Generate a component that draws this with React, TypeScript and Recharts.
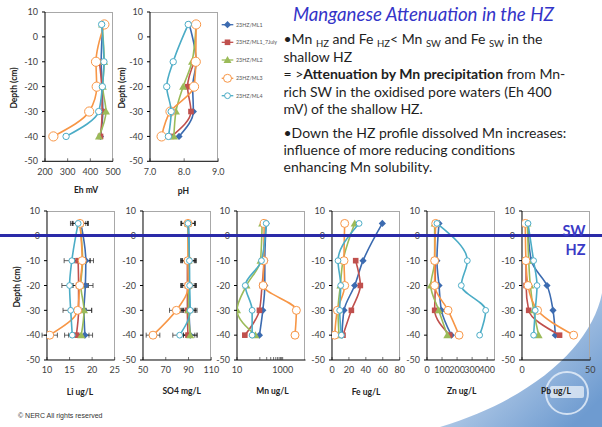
import React from 'react';
import { ScatterChart, Scatter, XAxis, YAxis, ErrorBar } from 'recharts';

const FONT = 'Lato, "Open Sans", sans-serif';

// ---------- data ----------
const SERIES_NAMES = ['23HZ/ML1', '23HZ/ML1_7July', '23HZ/ML2', '23HZ/ML3', '23HZ/ML4'];
const DEPTHS = [5, -10, -20, -30, -40];
const DEPTHS_7JULY = [-10, -20, -30, -40];
const DEPTH_TICKS = [10, 0, -10, -20, -30, -40, -50];

const EH_ML1 = [455, 448, 452, 455, 445];
const EH_ML1_7JULY = [440, 450, 452, 445];
const EH_ML2 = [452, 461, 455, 469, 438];
const EH_ML3 = [462, 425, 428, 395, 237];
const EH_ML4 = [450, 460, 453, 437, 293];

const PH_ML1 = [8.15, 8.35, 8.25, 8.27, 7.85];
const PH_ML1_7JULY = [8.3, 8.1, 8.2, 7.63];
const PH_ML2 = [8.35, 8.23, 7.97, 7.76, 7.7];
const PH_ML3 = [8.35, 8.34, 8.29, 7.6, 7.34];
const PH_ML4 = [8.12, 7.68, 7.49, 7.62, 7.54];

const LI_ML1 = [17.5, 18.6, 18.5, 18.2, 18.4];
const LI_ML1_7JULY = [16.9, 17.0, 17.0, 16.5];
const LI_ML2 = [17.3, 17.9, 17.5, 18.2, 17.6];
const LI_ML3 = [17.3, 17.8, 17.25, 16.8, 10.6];
const LI_ML4 = [16.9, 15.5, 15.0, 15.25, 15.6];
const LI_ERR = 1.7;

const SO4_ML1 = [90, 90.5, 90.5, 90.5, 91.5];
const SO4_ML1_7JULY = [89, 89, 89, 89.5];
const SO4_ML2 = [89.5, 90, 90, 90, 91.5];
const SO4_ML3 = [89.5, 89.5, 90, 79.3, 58.8];
const SO4_ML4 = [89.5, 90.8, 91, 91.5, 82.2];
const SO4_ERR = 6;

const MN_ML1 = [190, 165, 165, 135, 96];
const MN_ML1_7JULY = [160, 125, 96, 22];
const MN_ML2 = [126, 107, 26, 10, 64];
const MN_ML3 = [155, 148, 140, 3980, 3470];
const MN_ML4 = [190, 118, 23, 46, 46];

const FE_ML1 = [59.5, 36.7, 26.8, 14.2, 11.8];
const FE_ML1_7JULY = [28, 33.5, 22.9, 13];
const FE_ML2 = [26.8, 13, 9.9, 7.1, 8.3];
const FE_ML3 = [15, 14.2, 15, 6.4, 3.2];
const FE_ML4 = [32, 7.1, 10.3, 9.1, 11.1];

const ZN_ML1 = [80, 66, 80, 96, 162];
const ZN_ML1_7JULY = [55, 55, 51, 151];
const ZN_ML2 = [51, 51, 25, 78, 135];
const ZN_ML3 = [58, 51, 51, 140, 213];
const ZN_ML4 = [66, 268, 228, 390, 350];

const PB_ML1 = [4.1, 6.8, 18.3, 22.7, 24.4];
const PB_ML1_7JULY = [3, 3, 4.9, 27.5];
const PB_ML2 = [4, 4.9, 6.1, 8.5, 12.2];
const PB_ML3 = [2.4, 2.9, 4.4, 11.4, 37.8];
const PB_ML4 = [4.4, 8.5, 11, 9.7, 8.5];

const EH_TICKS = [200, 300, 400, 500];
const PH_TICKS = [7, 8, 9];
const LI_TICKS = [10, 15, 20, 25];
const SO4_TICKS = [50, 70, 90, 110];
const MN_TICKS = [10, 100, 200, 300, 400, 500, 600, 700, 800, 900, 1000];
const MN_LABELLED = [10, 1000];
const FE_TICKS = [0, 20, 40, 60, 80];
const ZN_TICKS = [0, 100, 200, 300, 400];
const PB_TICKS = [0, 50];

// ---------- styles ----------
const COLORS = ['#3C6BB0', '#C0504D', '#9BBB59', '#F79646', '#4BACC6'];
const MARKERS = ['diamond', 'square', 'triangle', 'bigCircle', 'smallCircle'];

type Pt = { x: number; y: number; err?: number };
const pts = (depths: number[], vals: number[], err?: number): Pt[] =>
  depths.map((d, i) => ({ x: vals[i], y: d, err }));

const seriesOf = (a: number[], b: number[], c: number[], d: number[], e: number[], err?: number) => [
  pts(DEPTHS, a, err),
  pts(DEPTHS_7JULY, b, err),
  pts(DEPTHS, c, err),
  pts(DEPTHS, d, err),
  pts(DEPTHS, e, err),
];

function Marker({ kind, color, cx, cy, big }: { kind: string; color: string; cx: number; cy: number; big?: boolean }) {
  if (cx == null || cy == null || isNaN(cx) || isNaN(cy)) return null;
  switch (kind) {
    case 'diamond':
      return <polygon points={`${cx},${cy - 3.6} ${cx + 3.6},${cy} ${cx},${cy + 3.6} ${cx - 3.6},${cy}`} fill={color} />;
    case 'square':
      return <rect x={cx - 2.8} y={cy - 2.8} width={5.6} height={5.6} fill={color} />;
    case 'triangle':
      return <polygon points={`${cx},${cy - 4} ${cx + 4},${cy + 3} ${cx - 4},${cy + 3}`} fill={color} />;
    case 'bigCircle':
      return <circle cx={cx} cy={cy} r={big ? 4.6 : 4} fill="#fff" stroke={color} strokeWidth={1} />;
    default:
      return <circle cx={cx} cy={cy} r={big ? 3.2 : 2.9} fill="#fff" stroke={color} strokeWidth={1} />;
  }
}

type ProfileProps = {
  plotLeft: number;
  plotTop: number;
  plotW: number;
  plotH: number;
  domain: [number, number];
  ticks: number[];
  log?: boolean;
  fmt?: (v: number) => string;
  series: Pt[][];
  err?: boolean;
  xTitle: string;
  xTitleX: number;
  xTitleY: number;
  yTitle?: string;
  yTitleX?: number;
  bigMarkers?: boolean;
};

function Profile(p: ProfileProps) {
  const YW = 36;
  const MT = 6;
  const MR = 12;
  const XH = 24;
  const width = YW + p.plotW + MR;
  const height = MT + p.plotH + XH;
  const tickStyle = { fontSize: 9, fill: '#404040', fontFamily: FONT };
  return (
    <>
      <div
        style={{
          position: 'absolute',
          left: p.plotLeft,
          top: p.plotTop,
          width: p.plotW,
          height: p.plotH,
          boxSizing: 'border-box',
          borderTop: '1px solid #A8A8A8',
          borderRight: '1px solid #A8A8A8',
        }}
      />
      <div style={{ position: 'absolute', left: p.plotLeft - YW, top: p.plotTop - MT }}>
        <ScatterChart width={width} height={height} margin={{ top: MT, right: MR, bottom: 0, left: 0 }}>
          <XAxis
            type="number"
            dataKey="x"
            domain={p.domain}
            scale={p.log ? 'log' : 'auto'}
            ticks={p.ticks}
            interval={0}
            allowDataOverflow
            height={XH}
            tickSize={-3}
            tickMargin={10}
            tick={tickStyle}
            tickFormatter={p.fmt}
            axisLine={{ stroke: '#000', strokeWidth: 1 }}
            tickLine={{ stroke: '#333', strokeWidth: 0.7 }}
          />
          <YAxis
            type="number"
            dataKey="y"
            domain={[-50, 10]}
            ticks={DEPTH_TICKS}
            interval={0}
            allowDataOverflow
            width={YW}
            tickSize={3}
            tickMargin={4}
            tick={tickStyle}
            axisLine={{ stroke: '#000', strokeWidth: 1 }}
            tickLine={{ stroke: '#000' }}
          />
          {p.series.map((data, i) => (
            <Scatter
              key={SERIES_NAMES[i]}
              name={SERIES_NAMES[i]}
              data={data}
              fill={COLORS[i]}
              line={{ stroke: COLORS[i], strokeWidth: 1.6 }}
              lineJointType="monotoneY"
              isAnimationActive={false}
              shape={(sp: any) => <Marker kind={MARKERS[i]} color={COLORS[i]} cx={sp.cx} cy={sp.cy} big={p.bigMarkers} />}
            >
              {p.err ? <ErrorBar dataKey="err" direction="x" stroke="#222" strokeWidth={0.7} width={2.5} /> : null}
            </Scatter>
          ))}
        </ScatterChart>
      </div>
      <div
        style={{
          position: 'absolute',
          left: p.xTitleX,
          top: p.xTitleY,
          transform: 'translate(-50%, -50%)',
          fontSize: 8.5,
          fontWeight: 700,
          color: '#222',
          whiteSpace: 'nowrap',
        }}
      >
        {p.xTitle}
      </div>
      {p.yTitle ? (
        <div
          style={{
            position: 'absolute',
            left: p.yTitleX,
            top: p.plotTop + p.plotH / 2 + 1,
            transform: 'translate(-50%, -50%) rotate(-90deg)',
            fontSize: 8.5,
            fontWeight: 700,
            color: '#222',
            whiteSpace: 'nowrap',
          }}
        >
          {p.yTitle}
        </div>
      ) : null}
    </>
  );
}

function Legend() {
  const ys = [24.7, 42.3, 60, 78.3, 95.7];
  return (
    <svg style={{ position: 'absolute', left: 0, top: 0 }} width={300} height={110}>
      {SERIES_NAMES.map((n, i) => (
        <g key={n}>
          <line x1={221.7} x2={233.3} y1={ys[i]} y2={ys[i]} stroke={COLORS[i]} strokeWidth={1.3} />
          <Marker kind={MARKERS[i]} color={COLORS[i]} cx={227.5} cy={ys[i]} />
          <text x={236} y={ys[i] + 1.8} fontSize={5.3} fill="#555" fontFamily={FONT}>
            {n}
          </text>
        </g>
      ))}
    </svg>
  );
}

function Watermark() {
  return (
    <svg style={{ position: 'absolute', left: 0, top: 0 }} width={602} height={427}>
      <defs>
        <linearGradient id="wm" x1="0.1" y1="0.2" x2="0.9" y2="0.9">
          <stop offset="0" stopColor="#E4EDF7" />
          <stop offset="0.45" stopColor="#A9C4E4" />
          <stop offset="1" stopColor="#6E9BD0" />
        </linearGradient>
      </defs>
      <path d="M602,293 C592,345 535,398 440,427 L602,427 Z" fill="url(#wm)" />
      <circle cx={567} cy={393} r={21} fill="none" stroke="#EAF1FA" strokeWidth={2} opacity={0.8} />
      <rect x={550} y={386} width={34} height={12} rx={2} fill="#F2F6FB" opacity={0.7} />
    </svg>
  );
}

const sub = (t: string) => (
  <span style={{ fontSize: 9.5, position: 'relative', top: 3 }}>{t}</span>
);

function TextBlock() {
  const lines: { y: number; content: React.ReactNode }[] = [
    {
      y: 39,
      content: (
        <>
          •Mn {sub('HZ')} and Fe {sub('HZ')}&lt; Mn {sub('SW')} and Fe {sub('SW')} in the
        </>
      ),
    },
    { y: 56.7, content: 'shallow HZ' },
    {
      y: 74,
      content: (
        <>
          = &gt;<b>Attenuation by Mn precipitation</b> from Mn-
        </>
      ),
    },
    { y: 91.7, content: 'rich SW in the oxidised pore waters (Eh 400' },
    { y: 109, content: 'mV) of the shallow HZ.' },
    { y: 132.7, content: '•Down the HZ profile dissolved Mn increases:' },
    { y: 150, content: 'influence of more reducing conditions' },
    { y: 166.7, content: 'enhancing Mn solubility.' },
  ];
  return (
    <>
      <div
        style={{
          position: 'absolute',
          left: 293,
          top: 3,
          height: 22,
          lineHeight: '22px',
          fontSize: 18.7,
          fontStyle: 'italic',
          color: '#3434C8',
          whiteSpace: 'nowrap',
        }}
      >
        Manganese Attenuation in the HZ
      </div>
      {lines.map((l, i) => (
        <div
          key={i}
          style={{
            position: 'absolute',
            left: 283.5,
            top: l.y - 9,
            height: 18,
            lineHeight: '18px',
            fontSize: 14,
            color: '#1E1E1E',
            whiteSpace: 'nowrap',
          }}
        >
          {l.content}
        </div>
      ))}
    </>
  );
}

export default function App() {
  const TOP_Y = 12;
  const TOP_H = 149.3;
  const BOT_Y = 211;
  const BOT_H = 149;
  return (
    <div
      style={{
        position: 'absolute',
        left: 0,
        top: 0,
        width: 602,
        height: 427,
        background: '#fff',
        overflow: 'hidden',
        fontFamily: FONT,
      }}
    >
      <Watermark />
      <Profile
        plotLeft={45}
        plotTop={TOP_Y}
        plotW={68}
        plotH={TOP_H}
        domain={[200, 500]}
        ticks={EH_TICKS}
        series={seriesOf(EH_ML1, EH_ML1_7JULY, EH_ML2, EH_ML3, EH_ML4)}
        xTitle="Eh mV"
        xTitleX={86}
        xTitleY={190}
        yTitle="Depth (cm)"
        yTitleX={14}
        bigMarkers
      />
      <Profile
        plotLeft={150}
        plotTop={TOP_Y}
        plotW={68.3}
        plotH={TOP_H}
        domain={[7, 9]}
        ticks={PH_TICKS}
        fmt={(v) => v.toFixed(1)}
        series={seriesOf(PH_ML1, PH_ML1_7JULY, PH_ML2, PH_ML3, PH_ML4)}
        xTitle="pH"
        xTitleX={183.5}
        xTitleY={191}
        yTitle="Depth (cm)"
        yTitleX={121.7}
        bigMarkers
      />
      <Legend />
      <Profile
        plotLeft={47.3}
        plotTop={BOT_Y}
        plotW={67.7}
        plotH={BOT_H}
        domain={[10, 25]}
        ticks={LI_TICKS}
        series={seriesOf(LI_ML1, LI_ML1_7JULY, LI_ML2, LI_ML3, LI_ML4, LI_ERR)}
        err
        xTitle="Li ug/L"
        xTitleX={80}
        xTitleY={391.5}
        yTitle="Depth (cm)"
        yTitleX={17.3}
      />
      <Profile
        plotLeft={142.7}
        plotTop={BOT_Y}
        plotW={68.3}
        plotH={BOT_H}
        domain={[50, 110]}
        ticks={SO4_TICKS}
        series={seriesOf(SO4_ML1, SO4_ML1_7JULY, SO4_ML2, SO4_ML3, SO4_ML4, SO4_ERR)}
        err
        xTitle="SO4 mg/L"
        xTitleX={181.7}
        xTitleY={391}
      />
      <Profile
        plotLeft={236.7}
        plotTop={BOT_Y}
        plotW={68.5}
        plotH={BOT_H}
        domain={[10, 10000]}
        log
        ticks={MN_TICKS}
        fmt={(v) => (MN_LABELLED.includes(v) ? String(v) : '')}
        series={seriesOf(MN_ML1, MN_ML1_7JULY, MN_ML2, MN_ML3, MN_ML4)}
        xTitle="Mn ug/L"
        xTitleX={272.5}
        xTitleY={391}
      />
      <Profile
        plotLeft={332.3}
        plotTop={BOT_Y}
        plotW={67.7}
        plotH={BOT_H}
        domain={[0, 80]}
        ticks={FE_TICKS}
        series={seriesOf(FE_ML1, FE_ML1_7JULY, FE_ML2, FE_ML3, FE_ML4)}
        xTitle="Fe ug/L"
        xTitleX={366}
        xTitleY={391.5}
      />
      <Profile
        plotLeft={427.3}
        plotTop={BOT_Y}
        plotW={67.7}
        plotH={BOT_H}
        domain={[0, 450]}
        ticks={ZN_TICKS}
        series={seriesOf(ZN_ML1, ZN_ML1_7JULY, ZN_ML2, ZN_ML3, ZN_ML4)}
        xTitle="Zn ug/L"
        xTitleX={461.7}
        xTitleY={390.5}
      />
      <Profile
        plotLeft={521.7}
        plotTop={BOT_Y}
        plotW={68.3}
        plotH={BOT_H}
        domain={[0, 50]}
        ticks={PB_TICKS}
        series={seriesOf(PB_ML1, PB_ML1_7JULY, PB_ML2, PB_ML3, PB_ML4)}
        xTitle="Pb ug/L"
        xTitleX={556}
        xTitleY={390.5}
      />
      <TextBlock />
      <div
        style={{
          position: 'absolute',
          left: 0,
          top: 234.3,
          width: 602,
          height: 2.8,
          background: '#2A2AA8',
        }}
      />
      <div
        style={{
          position: 'absolute',
          left: 574,
          top: 230,
          transform: 'translate(-50%, -50%)',
          fontSize: 14.5,
          fontWeight: 700,
          color: '#3A3AC6',
        }}
      >
        SW
      </div>
      <div
        style={{
          position: 'absolute',
          left: 575.5,
          top: 249.3,
          transform: 'translate(-50%, -50%)',
          fontSize: 14.5,
          fontWeight: 700,
          color: '#3A3AC6',
        }}
      >
        HZ
      </div>
      <div
        style={{
          position: 'absolute',
          left: 18,
          top: 415,
          transform: 'translateY(-50%)',
          fontSize: 7,
          fontFamily: '"Liberation Sans", Arial, sans-serif',
          color: '#333',
          whiteSpace: 'nowrap',
        }}
      >
        © NERC All rights reserved
      </div>
    </div>
  );
}
